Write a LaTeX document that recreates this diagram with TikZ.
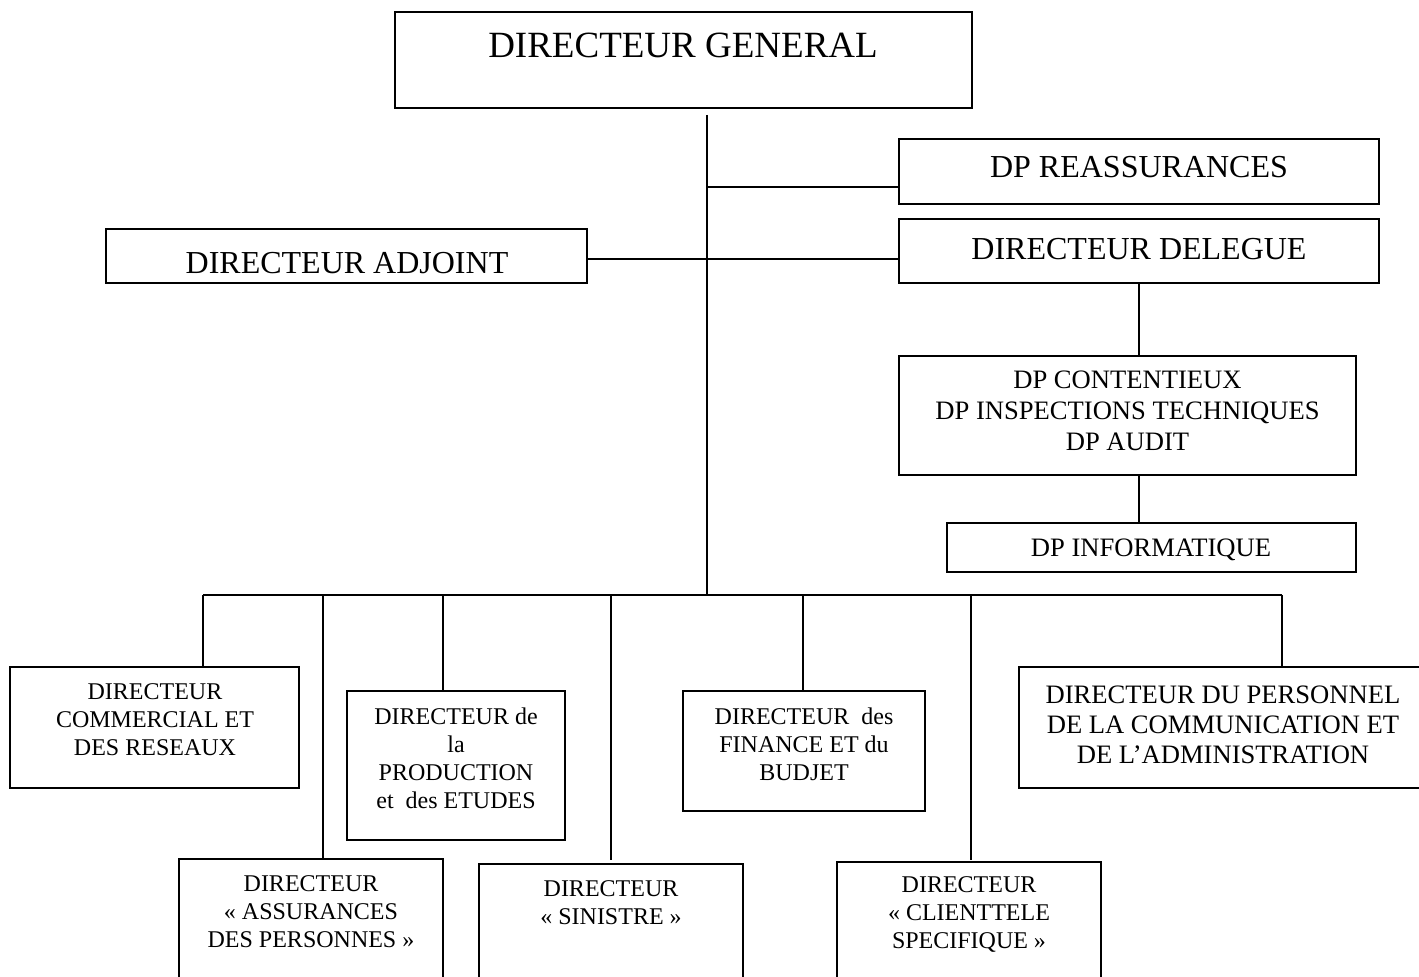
\documentclass[tikz,border=0pt]{standalone}
\usepackage{fontspec}
\setmainfont{Liberation Serif}
\newcommand\orgbox[5]{\node[box, minimum width={(#4-#2)*0.5pt}, minimum height={(#5-#3)*0.5pt}] (#1) at ({(#2+#4)/2},{(#3+#5)/2}) {};}
\tikzset{
  box/.style={draw, line width=1pt, inner sep=0pt, outer sep=0pt},
  link/.style={line width=1pt},
  txt/.style={inner sep=0pt, align=center},
  huge/.style={txt, font=\fontsize{18.5}{21}\selectfont},
  big/.style={txt, font=\fontsize{16}{19}\selectfont},
  mid/.style={txt, font=\fontsize{13.3}{15.5}\selectfont},
  midp/.style={txt, font=\fontsize{13.3}{15}\selectfont},
  small/.style={txt, font=\fontsize{12}{14}\selectfont}
}
\begin{document}
\begin{tikzpicture}[x=0.5pt,y=-0.5pt]
\clip (0,0) rectangle (1419,977);
\fill[white] (0,0) rectangle (1419,977);
% boxes
\orgbox{dg}{395}{12}{972}{108}
\orgbox{reass}{899}{139}{1379}{204}
\orgbox{dd}{899}{219}{1379}{283}
\orgbox{da}{106}{229}{587}{283}
\orgbox{cont}{899}{356}{1356}{475}
\orgbox{info}{947}{523}{1356}{572}
\orgbox{dcr}{10}{667}{299}{788}
\orgbox{prod}{347}{691}{565}{840}
\orgbox{fin}{683}{691}{925}{811}
\orgbox{pers}{1019}{667}{1427}{788}
\orgbox{adp}{179}{859}{443}{1000}
\orgbox{sin}{479}{864}{743}{1000}
\orgbox{cli}{837}{862}{1101}{1000}
% texts
\node[huge] (dgt) at (683,45.5) {DIRECTEUR GENERAL};
\node[big] (reasst) at (1139,167) {DP REASSURANCES};
\node[big] (ddt) at (1139,249) {DIRECTEUR DELEGUE};
\node[big] (dat) at (347,263) {DIRECTEUR ADJOINT};
\node[mid] (contt) at (1127.5,411) {DP CONTENTIEUX\\DP INSPECTIONS TECHNIQUES\\DP AUDIT};
\node[mid] (infot) at (1151,550) {DP INFORMATIQUE};
\node[small] (dcrt) at (155,720) {DIRECTEUR\\COMMERCIAL ET\\DES RESEAUX};
\node[small] (prodt) at (456,758.5) {DIRECTEUR de\\la\\PRODUCTION\\et\ \ des ETUDES};
\node[small] (fint) at (804,744) {DIRECTEUR\ \ des\\FINANCE ET du\\BUDJET};
\node[midp] (perst) at (1223,725) {DIRECTEUR DU PERSONNEL\\DE LA COMMUNICATION ET\\DE L’ADMINISTRATION};
\node[small] (adpt) at (311,912) {DIRECTEUR\\« ASSURANCES\\DES PERSONNES »};
\node[small] (sint) at (611,903) {DIRECTEUR\\« SINISTRE »};
\node[small] (clit) at (969,914) {DIRECTEUR\\« CLIENTTELE\\SPECIFIQUE »};
% connectors
\coordinate (t0) at (707,115);
\coordinate (t1) at (707,187);
\coordinate (t2) at (707,259);
\coordinate (tb) at (707,595);
\draw[link] (t0) -- (tb);
\draw[link] (t1) -- (t1 -| reass.west);
\draw[link] (t2 -| da.east) -- (t2 -| dd.west);
\draw[link] (dd.south) -- (dd.south |- cont.north);
\draw[link] (dd.south |- cont.south) -- (dd.south |- info.north);
\coordinate (b1) at (203,595);
\coordinate (b2) at (323,595);
\coordinate (b3) at (443,595);
\coordinate (b4) at (611,595);
\coordinate (b5) at (803,595);
\coordinate (b6) at (971,595);
\coordinate (b7) at (1282,595);
\coordinate (s4) at (611,860);
\coordinate (s6) at (971,860);
\draw[link] (b1) -- (b7);
\draw[link] (b1) -- (b1 |- dcr.north);
\draw[link] (b2) -- (b2 |- adp.north);
\draw[link] (b3) -- (b3 |- prod.north);
\draw[link] (b4) -- (s4);
\draw[link] (b5) -- (b5 |- fin.north);
\draw[link] (b6) -- (s6);
\draw[link] (b7) -- (b7 |- pers.north);
\end{tikzpicture}
\end{document}
